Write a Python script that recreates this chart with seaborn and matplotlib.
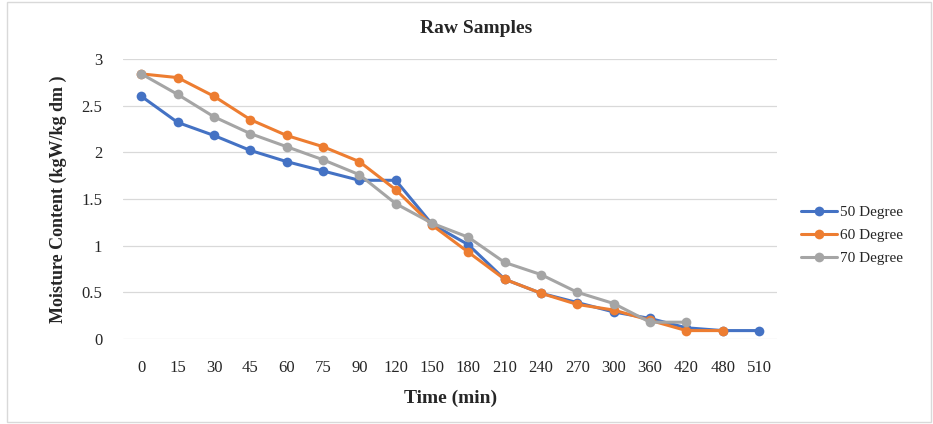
import numpy as np
import pandas as pd
import matplotlib.pyplot as plt
import seaborn as sns
from matplotlib.patches import Rectangle

time_labels = ["0", "15", "30", "45", "60", "75", "90", "120", "150", "180",
               "210", "240", "270", "300", "360", "420", "480", "510"]
deg50 = [2.60, 2.32, 2.18, 2.02, 1.90, 1.80, 1.70, 1.70, 1.23, 1.01,
         0.64, 0.49, 0.39, 0.29, 0.22, 0.12, 0.09, 0.09]
deg60 = [2.84, 2.80, 2.60, 2.35, 2.18, 2.06, 1.90, 1.60, 1.22, 0.93,
         0.64, 0.49, 0.37, 0.31, 0.20, 0.09, 0.09, None]
deg70 = [2.84, 2.62, 2.38, 2.20, 2.06, 1.92, 1.76, 1.45, 1.24, 1.09,
         0.82, 0.69, 0.50, 0.38, 0.18, 0.18, None, None]
series = {"50 Degree": deg50, "60 Degree": deg60, "70 Degree": deg70}
colors = ["#4472C4", "#ED7D31", "#A5A5A5"]

rows = []
for name, vals in series.items():
    for i, v in enumerate(vals):
        if v is not None:
            rows.append({"pos": i, "moisture": v, "series": name})
df = pd.DataFrame(rows)

sns.set_style("white")
plt.rcParams['font.family'] = ['Liberation Serif', 'DejaVu Serif']

fig = plt.figure(figsize=(9.33, 4.24), dpi=100)
ax = fig.add_axes([0.132, 0.2005, 0.701, 0.6605])

sns.lineplot(data=df, x="pos", y="moisture", hue="series", palette=colors,
             marker="o", markersize=7, markeredgewidth=0, linewidth=2.2,
             ax=ax, clip_on=False, zorder=3)

ax.set_xlim(-0.5, 17.5)
ax.set_ylim(0, 3)
ax.set_xticks(range(len(time_labels)))
ax.set_xticklabels(time_labels, fontsize=12)
ax.set_yticks([0, 0.5, 1, 1.5, 2, 2.5, 3])
ax.set_yticklabels(["0", "0.5", "1", "1.5", "2", "2.5", "3"], fontsize=12)
ax.tick_params(axis='x', length=0, pad=15)
ax.tick_params(axis='y', length=0, pad=15)
ax.yaxis.grid(True, color="#d9d9d9", linewidth=0.9)
ax.set_axisbelow(True)
for s in ax.spines.values():
    s.set_visible(False)

# title sits a bit right of the plot centre, as in the original chart
fig.text(0.51, 0.932, "Raw Samples", fontsize=14, fontweight="bold",
         ha="center", va="center")
ax.set_xlabel("Time (min)", fontsize=14, fontweight="bold", labelpad=10)
ax.set_ylabel("Moisture Content (kgW/kg dm )", fontsize=13, fontweight="bold", labelpad=10)

leg = ax.legend(loc="center left", bbox_to_anchor=(1.015, 0.37), frameon=False,
                fontsize=11, handlelength=2.4, labelspacing=0.6, handletextpad=0.2)

fig.patches.append(Rectangle((0.008, 0.005), 0.99, 0.99, transform=fig.transFigure,
                             fill=False, edgecolor="#d9d9d9", linewidth=1))

plt.savefig("out.png", dpi=100)
